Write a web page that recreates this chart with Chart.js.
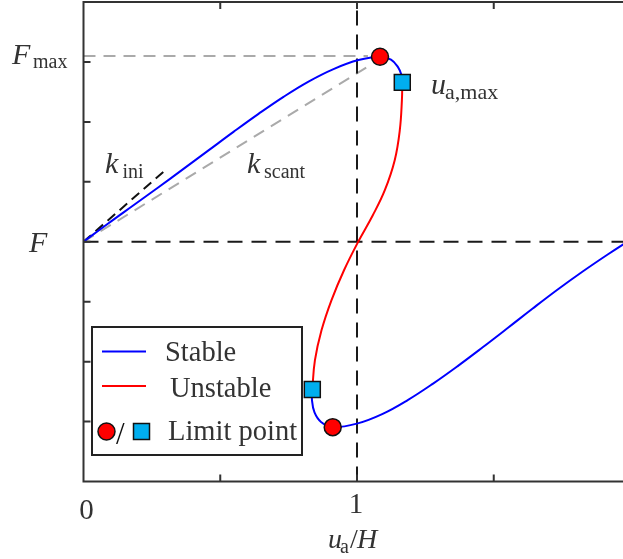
<!DOCTYPE html>
<html>
<head>
<meta charset="utf-8">
<script src="https://cdn.jsdelivr.net/npm/chart.js@4.4.1/dist/chart.umd.min.js"></script>
<style>
  html, body { margin: 0; padding: 0; background: #fff; overflow: hidden; }
  #wrap { width: 640px; height: 559px; }
</style>
</head>
<body>
<div id="wrap"><canvas id="curve" width="640" height="559"></canvas></div>
<script>
// x = u_a/H, y = F (F = 0 on the dashed line, peak ~ 3.1)
const stableUpperX = [0, 0.0914, 0.1828, 0.2742, 0.3656, 0.4570, 0.5484, 0.6399, 0.7313, 0.8227, 0.9141, 1.0055, 1.0841, 1.1243, 1.1499, 1.1627, 1.1656];
const stableUpperY = [0, 0.3090, 0.6096, 0.9102, 1.2150, 1.5240, 1.8330, 2.1336, 2.4175, 2.6722, 2.8810, 3.0313, 3.0864, 3.0397, 2.9144, 2.7808, 2.6589];
const unstableX = [1.1656, 1.1642, 1.1565, 1.1379, 1.1017, 1.0578, 1.0044, 0.9525, 0.9065, 0.8702, 0.8461, 0.8366];
const unstableY = [2.6589, 2.3633, 1.8622, 1.3612, 0.8601, 0.4426, 0.0, -0.4760, -0.9770, -1.4781, -1.9791, -2.4635];
const stableLowerX = [0.8366, 0.8355, 0.8446, 0.8684, 0.9112, 1.0026, 1.0940, 1.1854, 1.2768, 1.3682, 1.4596, 1.5510, 1.6424, 1.7338, 1.8252, 1.9166, 2.0];
const stableLowerY = [-2.4635, -2.6472, -2.8476, -3.0063, -3.0931, -3.0305, -2.8718, -2.6422, -2.3708, -2.0743, -1.7612, -1.4397, -1.1140, -0.7967, -0.4960, -0.2121, 0.0351];

// limit points
const circleX = [1.0841, 0.9112];
const circleY = [3.0864, -3.0931];
const squareX = [1.1656, 0.8366];
const squareY = [2.6589, -2.4635];

// guide lines
const fMax = 3.1;
const fMaxEndX = 1.04;
const kIniEnd = [0.306, 1.222];
const kSecantEnd = [1.05, 2.95];

// axis ticks
const xTicks = [0.5, 1, 1.5];
const yTicks = [-3, -2, -1, 0, 1, 2, 3];
const xTickLabels = [{ v: 0, t: '0', dx: 3, base: 519 }, { v: 1, t: '1', dx: -1, base: 513 }];

const serif = '"Liberation Serif", "Times New Roman", serif';
const ink = '#333';

function pts(xs, ys) {
  return xs.map((x, i) => ({ x: x, y: ys[i] }));
}

// italic symbol with an upright subscript
function subLabel(ctx, main, sub, x, y, mainSize, subSize, subX, drop) {
  ctx.font = 'italic ' + mainSize + 'px ' + serif;
  ctx.fillText(main, x, y);
  ctx.font = subSize + 'px ' + serif;
  ctx.fillText(sub, subX, y + drop);
}

const framePlugin = {
  id: 'frame',
  afterDraw(chart) {
    const ctx = chart.ctx;
    const a = chart.chartArea;
    const xs = chart.scales.x, ys = chart.scales.y;
    ctx.save();
    ctx.strokeStyle = ink;
    ctx.lineWidth = 2;
    ctx.strokeRect(a.left, a.top, a.right - a.left, a.bottom - a.top);

    // inward tick marks
    ctx.beginPath();
    xTicks.forEach(v => {
      const px = xs.getPixelForValue(v);
      ctx.moveTo(px, a.bottom); ctx.lineTo(px, a.bottom - 7);
      ctx.moveTo(px, a.top); ctx.lineTo(px, a.top + 7);
    });
    yTicks.forEach(v => {
      const py = ys.getPixelForValue(v);
      ctx.moveTo(a.left, py); ctx.lineTo(a.left + 7, py);
      ctx.moveTo(a.right, py); ctx.lineTo(a.right - 7, py);
    });
    ctx.stroke();

    ctx.fillStyle = ink;
    ctx.textBaseline = 'alphabetic';

    // x tick labels
    ctx.textAlign = 'center';
    ctx.font = '29px ' + serif;
    xTickLabels.forEach(l => {
      ctx.fillText(l.t, xs.getPixelForValue(l.v) + l.dx, l.base);
    });

    ctx.textAlign = 'left';
    // y labels
    subLabel(ctx, 'F', 'max', 12, 64, 30, 20, 33, 4);
    ctx.font = 'italic 30px ' + serif;
    ctx.fillText('F', 29, ys.getPixelForValue(0) + 10);

    // axis title
    subLabel(ctx, 'u', 'a', 328, 548, 28, 20, 340, 5);
    ctx.font = '28px ' + serif;
    ctx.fillText('/', 350, 548);
    ctx.font = 'italic 28px ' + serif;
    ctx.fillText('H', 357, 548);

    // stiffness and displacement annotations
    subLabel(ctx, 'k', 'ini', 105, 173, 30, 20, 122.5, 5);
    subLabel(ctx, 'k', 'scant', 247, 173, 30, 20, 264, 5);
    subLabel(ctx, 'u', 'a,max', 431, 94, 30, 22, 445, 5);

    // legend box
    ctx.fillStyle = '#fff';
    ctx.fillRect(92, 327, 210, 128);
    ctx.strokeStyle = '#222';
    ctx.lineWidth = 2;
    ctx.strokeRect(92, 327, 210, 128);

    ctx.lineWidth = 2;
    ctx.strokeStyle = '#0000ff';
    ctx.beginPath(); ctx.moveTo(102, 351.5); ctx.lineTo(146, 351.5); ctx.stroke();
    ctx.strokeStyle = '#ff0000';
    ctx.beginPath(); ctx.moveTo(102, 386); ctx.lineTo(146, 386); ctx.stroke();

    ctx.lineWidth = 1.5;
    ctx.strokeStyle = '#111';
    ctx.fillStyle = '#ff0000';
    ctx.beginPath(); ctx.arc(106.5, 431.5, 8.5, 0, Math.PI * 2); ctx.fill(); ctx.stroke();
    ctx.fillStyle = '#00aeef';
    ctx.fillRect(133.5, 423.5, 16, 16); ctx.strokeRect(133.5, 423.5, 16, 16);

    ctx.fillStyle = '#111';
    ctx.font = '31px ' + serif;
    ctx.fillText('/', 116, 444);

    ctx.fillStyle = ink;
    ctx.font = '28.5px ' + serif;
    ctx.fillText('Stable', 165, 361);
    ctx.fillText('Unstable', 170, 397);
    ctx.fillText('Limit point', 168, 440);
    ctx.restore();
  }
};

const curveLine = (data, color) => ({
  data: data,
  borderColor: color,
  borderWidth: 2,
  pointRadius: 0,
  tension: 0.4,
  fill: false,
  order: 1
});

const guideLine = (data, color, dash) => ({
  data: data,
  borderColor: color,
  borderWidth: 2,
  borderDash: dash,
  pointRadius: 0,
  tension: 0,
  fill: false,
  order: 2
});

new Chart(document.getElementById('curve').getContext('2d'), {
  type: 'line',
  data: {
    datasets: [
      {
        data: pts(circleX, circleY),
        showLine: false,
        pointStyle: 'circle',
        pointRadius: 8.5,
        pointBackgroundColor: '#ff0000',
        pointBorderColor: '#111',
        pointBorderWidth: 1.5,
        order: 0
      },
      {
        data: pts(squareX, squareY),
        showLine: false,
        pointStyle: 'rect',
        pointRadius: 11.3,
        pointBackgroundColor: '#00aeef',
        pointBorderColor: '#111',
        pointBorderWidth: 1.5,
        order: 0
      },
      curveLine(pts(stableUpperX, stableUpperY), '#0000ff'),
      curveLine(pts(unstableX, unstableY), '#ff0000'),
      curveLine(pts(stableLowerX, stableLowerY), '#0000ff'),
      guideLine([{ x: 1, y: -4 }, { x: 1, y: 4 }], '#1a1a1a', [15, 9]),
      guideLine([{ x: 0, y: 0 }, { x: 2, y: 0 }], '#1a1a1a', [15, 9]),
      guideLine([{ x: 0, y: fMax }, { x: fMaxEndX, y: fMax }], '#aaaaaa', [12, 8]),
      guideLine([{ x: 0, y: 0 }, { x: kSecantEnd[0], y: kSecantEnd[1] }], '#aaaaaa', [12, 8]),
      guideLine([{ x: 0, y: 0 }, { x: kIniEnd[0], y: kIniEnd[1] }], '#111', [10, 6])
    ]
  },
  options: {
    responsive: false,
    animation: false,
    layout: { autoPadding: false, padding: { left: 83.5, right: 9.5, top: 2, bottom: 77.5 } },
    plugins: { legend: { display: false }, tooltip: { enabled: false } },
    scales: {
      x: { type: 'linear', min: 0, max: 2, display: false },
      y: { type: 'linear', min: -4, max: 4, display: false }
    }
  },
  plugins: [framePlugin]
});
</script>
</body>
</html>
